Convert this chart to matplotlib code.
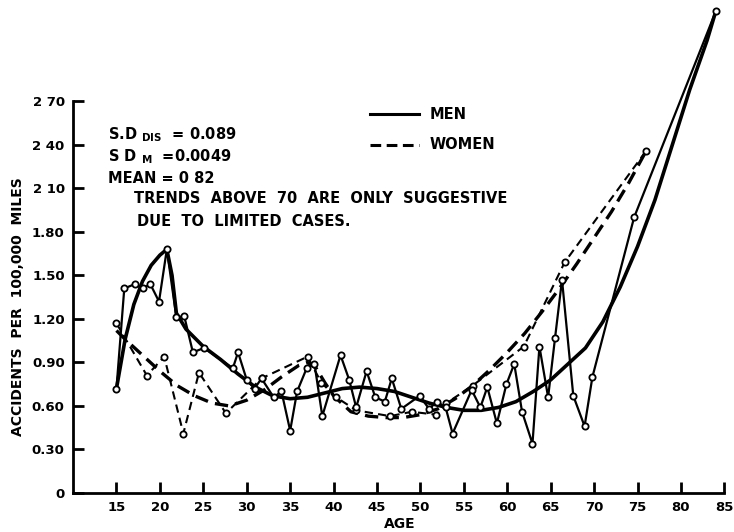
import numpy as np
import matplotlib
matplotlib.use("Agg")
import matplotlib.pyplot as plt

# men, yearly rates (jagged line)
men_age = [15, 15.9, 17.1, 18, 18.9, 19.9, 20.8, 21.9, 22.8, 23.8, 25.1, 28.4, 29, 30, 30.9, 31.7,
           33.1, 34, 35, 35.8, 36.9, 37.8, 38.7, 40.8, 41.8, 42.6, 43.8, 44.8, 45.9, 46.7, 47.8,
           49.9, 51, 51.9, 52.9, 53.7, 55.9, 56.9, 57.7, 58.8, 59.9, 60.8, 61.7, 62.9, 63.7, 64.7,
           65.5, 66.3, 67.6, 68.9, 69.8, 74.6, 84]
men_val = [0.72, 1.41, 1.44, 1.41, 1.44, 1.32, 1.68, 1.21, 1.22, 0.97, 1.00, 0.86, 0.97, 0.78, 0.72, 0.79,
           0.66, 0.70, 0.43, 0.70, 0.86, 0.89, 0.53, 0.95, 0.78, 0.59, 0.84, 0.66, 0.63, 0.79, 0.58,
           0.67, 0.58, 0.63, 0.59, 0.41, 0.71, 0.59, 0.73, 0.48, 0.75, 0.89, 0.56, 0.34, 1.01, 0.66,
           1.07, 1.47, 0.67, 0.46, 0.80, 1.90, 3.32]

# men, fitted trend
men_fit_age = [15, 16, 17, 18, 19, 20, 20.8, 21.4, 21.9, 23, 25, 27, 29, 31, 33, 35, 37, 39, 41, 43,
               45, 47, 49, 51, 53, 55, 57, 59, 61, 63, 65, 67, 69, 71, 73, 75, 77, 79, 81, 83, 84]
men_fit_val = [0.72, 1.06, 1.30, 1.46, 1.57, 1.64, 1.68, 1.50, 1.24, 1.13, 1.01, 0.92, 0.82, 0.73, 0.67,
               0.65, 0.66, 0.69, 0.72, 0.73, 0.72, 0.70, 0.66, 0.62, 0.59, 0.57, 0.57, 0.59, 0.63, 0.70,
               0.78, 0.89, 1.00, 1.18, 1.42, 1.70, 2.02, 2.40, 2.78, 3.12, 3.32]

# women, yearly rates (jagged line)
women_age = [15, 18.5, 20.5, 22.7, 24.5, 27.6, 31.7, 37, 38.6, 40.3, 42.6, 46.5, 49, 51.8, 53, 56,
             61.9, 66.6, 76]
women_val = [1.17, 0.81, 0.94, 0.41, 0.83, 0.55, 0.79, 0.94, 0.76, 0.66, 0.57, 0.53, 0.56, 0.54, 0.62,
             0.74, 1.01, 1.59, 2.36]

# women, fitted trend
women_fit_age = [15, 16, 18, 20, 22, 24, 26, 28, 30, 32, 34, 36, 37, 38, 39, 40, 42, 44, 46, 48, 50,
                 52, 54, 56, 58, 60, 62, 64, 66, 68, 70, 72, 74, 76]
women_fit_val = [1.12, 1.06, 0.95, 0.84, 0.74, 0.67, 0.62, 0.60, 0.64, 0.71, 0.80, 0.88, 0.90, 0.86,
                 0.76, 0.67, 0.56, 0.53, 0.52, 0.52, 0.54, 0.58, 0.65, 0.74, 0.85, 0.97, 1.10, 1.25,
                 1.41, 1.58, 1.76, 1.94, 2.14, 2.36]

x_ticks = list(range(15, 90, 5))
y_ticks = [0, 0.3, 0.6, 0.9, 1.2, 1.5, 1.8, 2.1, 2.4, 2.7]
y_labels = ["0", "0.30", "0.60", "0.90", "1.20", "1.50", "1.80", "2 10", "2 40", "2 70"]

plt.rcParams['font.family'] = 'DejaVu Sans'
plt.rcParams['font.weight'] = 'bold'

fig = plt.figure(figsize=(7.34, 5.32), dpi=100)
ax = fig.add_axes([0.0995, 0.0733, 0.891, 0.927])

mk = dict(marker='o', markersize=4.5, markerfacecolor='white', markeredgecolor='black', markeredgewidth=1.3)

ax.plot(men_fit_age, men_fit_val, color='black', lw=2.6, solid_capstyle='round')
ax.plot(women_fit_age, women_fit_val, color='black', lw=2.4, ls=(0, (4, 2.2)))
ax.plot(women_age, women_val, color='black', lw=1.5, ls=(0, (4, 2.5)), **mk)
ax.plot(men_age, men_val, color='black', lw=1.6, **mk)

ax.set_xlim(10, 85.3)
ax.set_ylim(0, 3.40)
for s in ['top', 'right']:
    ax.spines[s].set_visible(False)
ax.spines['left'].set_bounds(0, 2.7)
ax.spines['bottom'].set_bounds(10, 85)
ax.spines['left'].set_linewidth(2)
ax.spines['bottom'].set_linewidth(2)

ax.set_xticks(x_ticks)
ax.set_xticklabels([str(t) for t in x_ticks])
ax.set_yticks(y_ticks)
ax.set_yticklabels(y_labels)
ax.tick_params(axis='both', direction='in', width=2, length=8, labelsize=9.5, pad=6)

ax.set_xlabel("AGE", fontsize=10, fontweight='bold', labelpad=2)
ax.set_ylabel("ACCIDENTS  PER  100,000  MILES", fontsize=10, fontweight='bold')
ax.yaxis.set_label_coords(-0.074, 0.377)

fs = 10.5
ax.text(14.0, 2.47, r"S.D $_{\mathbf{DIS}}$  = 0.089", fontsize=fs, fontweight='bold', va='center')
ax.text(14.0, 2.32, r"S D $_{\mathbf{M}}$  =0.0049", fontsize=fs, fontweight='bold', va='center')
ax.text(14.0, 2.17, "MEAN = 0 82", fontsize=fs, fontweight='bold', va='center')
ax.text(17.0, 2.03, "TRENDS  ABOVE  70  ARE  ONLY  SUGGESTIVE", fontsize=fs, fontweight='bold', va='center')
ax.text(17.4, 1.87, "DUE  TO  LIMITED  CASES.", fontsize=fs, fontweight='bold', va='center')

ax.plot([44.2, 49.8], [2.61, 2.61], color='black', lw=2.2)
ax.text(51.0, 2.61, "MEN", fontsize=fs, fontweight='bold', va='center')
ax.plot([44.2, 49.8], [2.40, 2.40], color='black', lw=2.2, ls=(0, (3.5, 1.8)))
ax.text(51.0, 2.40, "WOMEN", fontsize=fs, fontweight='bold', va='center')

fig.savefig("out.png", dpi=100)
